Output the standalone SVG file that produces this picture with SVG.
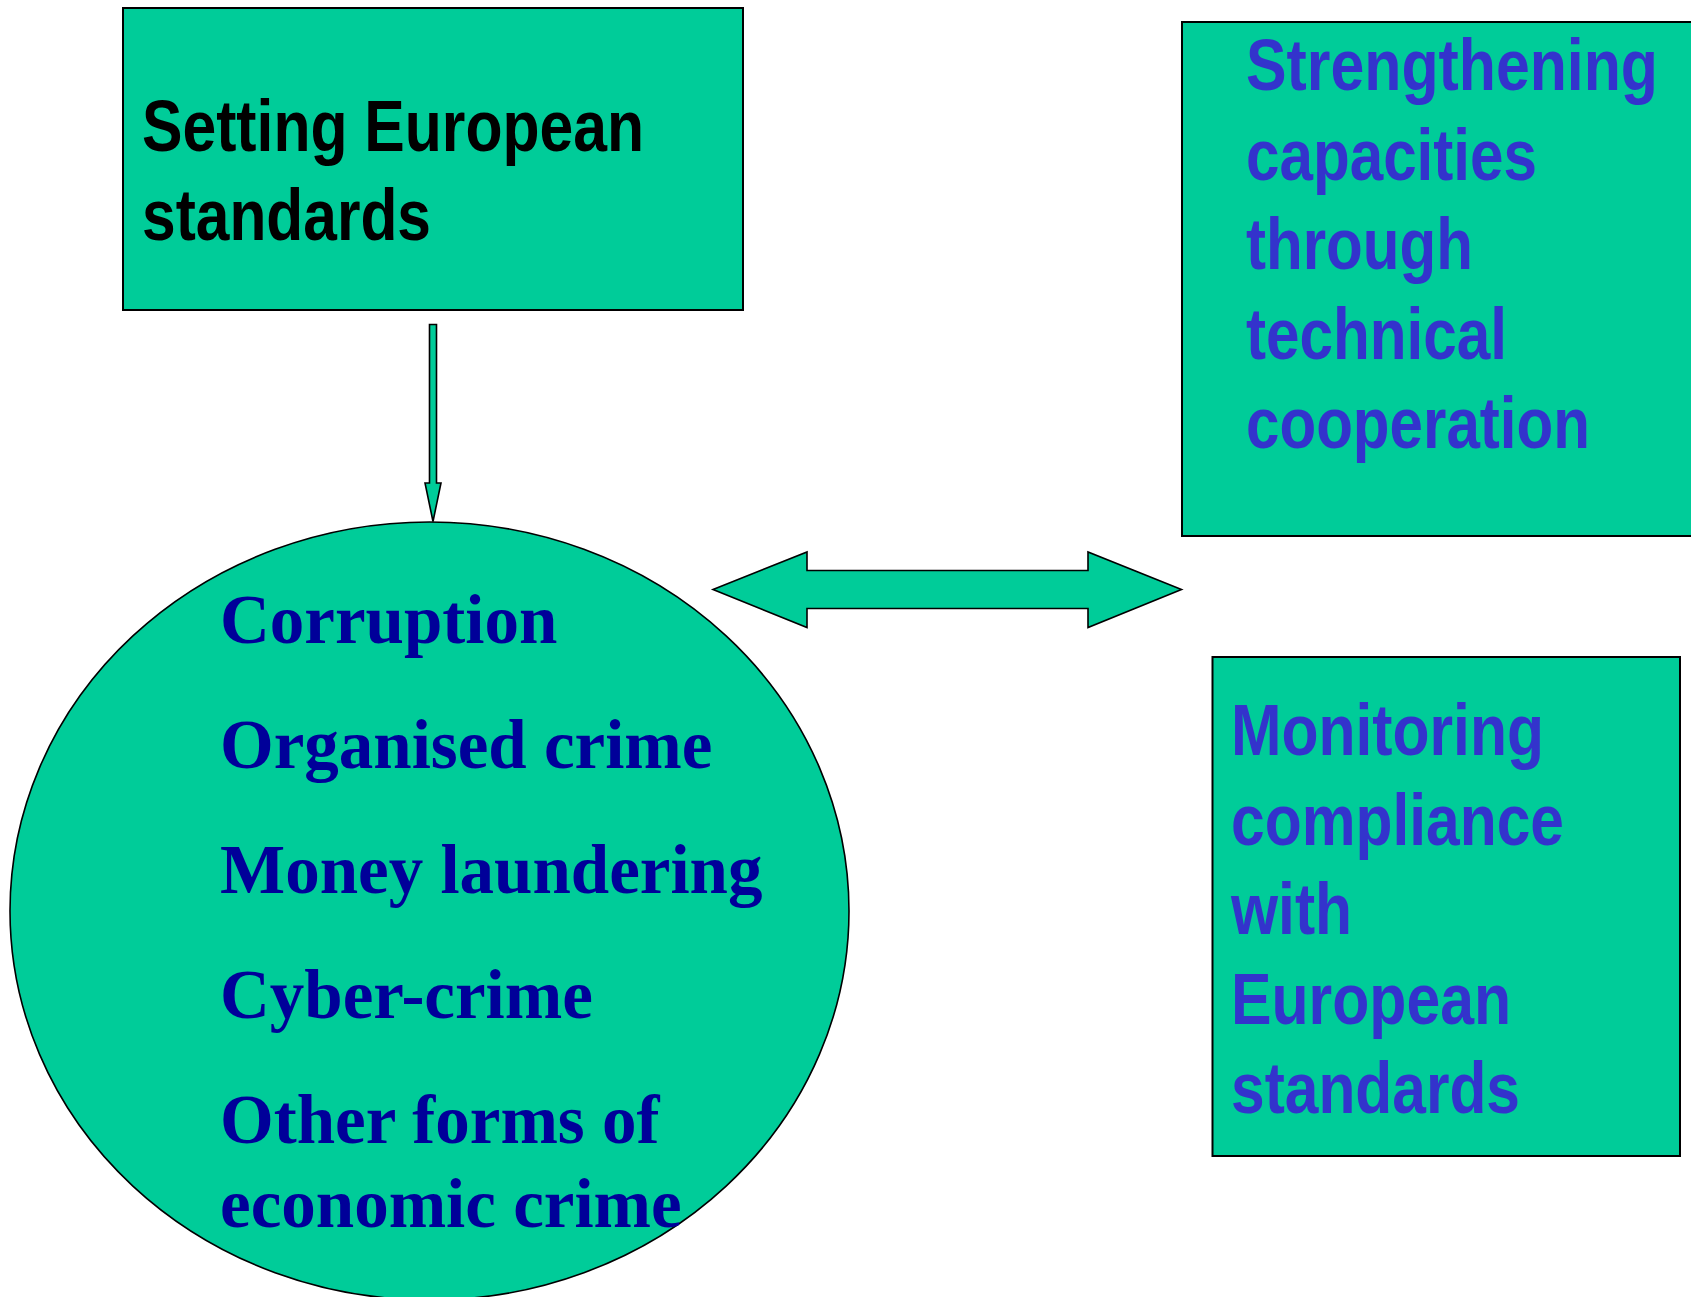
<svg xmlns="http://www.w3.org/2000/svg" width="1691" height="1297" viewBox="0 0 1691 1297">
<style>
.box{fill:#00CC99;stroke:#000;stroke-width:2}
.shape{fill:#00CC99;stroke:#000;stroke-width:1.6}
.sans{font-family:"Liberation Sans",Arial,sans-serif;font-weight:bold;font-size:73px}
.serif{font-family:"Liberation Serif","Times New Roman",serif;font-weight:bold;font-size:69px;fill:#000099}
.blk{fill:#000}
.blu{fill:#3333CC}
</style>
<rect width="1691" height="1297" fill="#fff"/>
<g id="connectors">
<polygon class="shape" points="429.5,324.5 436.5,324.5 436.5,483 441,483 433,521.5 425,483 429.5,483"/>
<polygon class="shape" points="713,589.5 807,552 807,570.5 1088,570.5 1088,552 1181.5,589.5 1088,627.5 1088,608.5 807,608.5 807,627.5"/>
</g>
<g id="node-setting">
<rect class="box" x="123" y="8" width="620" height="302"/>
<text class="sans blk" lengthAdjust="spacingAndGlyphs"><tspan x="142" y="151" textLength="502" lengthAdjust="spacingAndGlyphs">Setting European</tspan></text>
<text class="sans blk"><tspan x="142" y="240" textLength="289" lengthAdjust="spacingAndGlyphs">standards</tspan></text>
</g>
<g id="node-strengthening">
<rect class="box" x="1182" y="22" width="520" height="514"/>
<text class="sans blu" x="1246" y="90" textLength="412" lengthAdjust="spacingAndGlyphs">Strengthening</text>
<text class="sans blu" x="1246" y="179.5" textLength="291" lengthAdjust="spacingAndGlyphs">capacities</text>
<text class="sans blu" x="1246" y="269" textLength="227" lengthAdjust="spacingAndGlyphs">through</text>
<text class="sans blu" x="1246" y="358.5" textLength="261" lengthAdjust="spacingAndGlyphs">technical</text>
<text class="sans blu" x="1246" y="448" textLength="344" lengthAdjust="spacingAndGlyphs">cooperation</text>
</g>
<g id="node-monitoring">
<rect class="box" x="1212.5" y="657" width="467.5" height="499"/>
<text class="sans blu" x="1231" y="755" textLength="313" lengthAdjust="spacingAndGlyphs">Monitoring</text>
<text class="sans blu" x="1231" y="845" textLength="333" lengthAdjust="spacingAndGlyphs">compliance</text>
<text class="sans blu" x="1231" y="934" textLength="121" lengthAdjust="spacingAndGlyphs">with</text>
<text class="sans blu" x="1231" y="1024" textLength="280" lengthAdjust="spacingAndGlyphs">European</text>
<text class="sans blu" x="1231" y="1113" textLength="289" lengthAdjust="spacingAndGlyphs">standards</text>
</g>
<g id="node-crimes">
<ellipse class="shape" cx="429.5" cy="911" rx="419.5" ry="389"/>
<text class="serif" x="220" y="643">Corruption</text>
<text class="serif" x="220" y="768">Organised crime</text>
<text class="serif" x="220" y="893">Money laundering</text>
<text class="serif" x="220" y="1018">Cyber-crime</text>
<text class="serif" x="220" y="1143">Other forms of</text>
<text class="serif" x="220" y="1227">economic crime</text>
</g>
</svg>
